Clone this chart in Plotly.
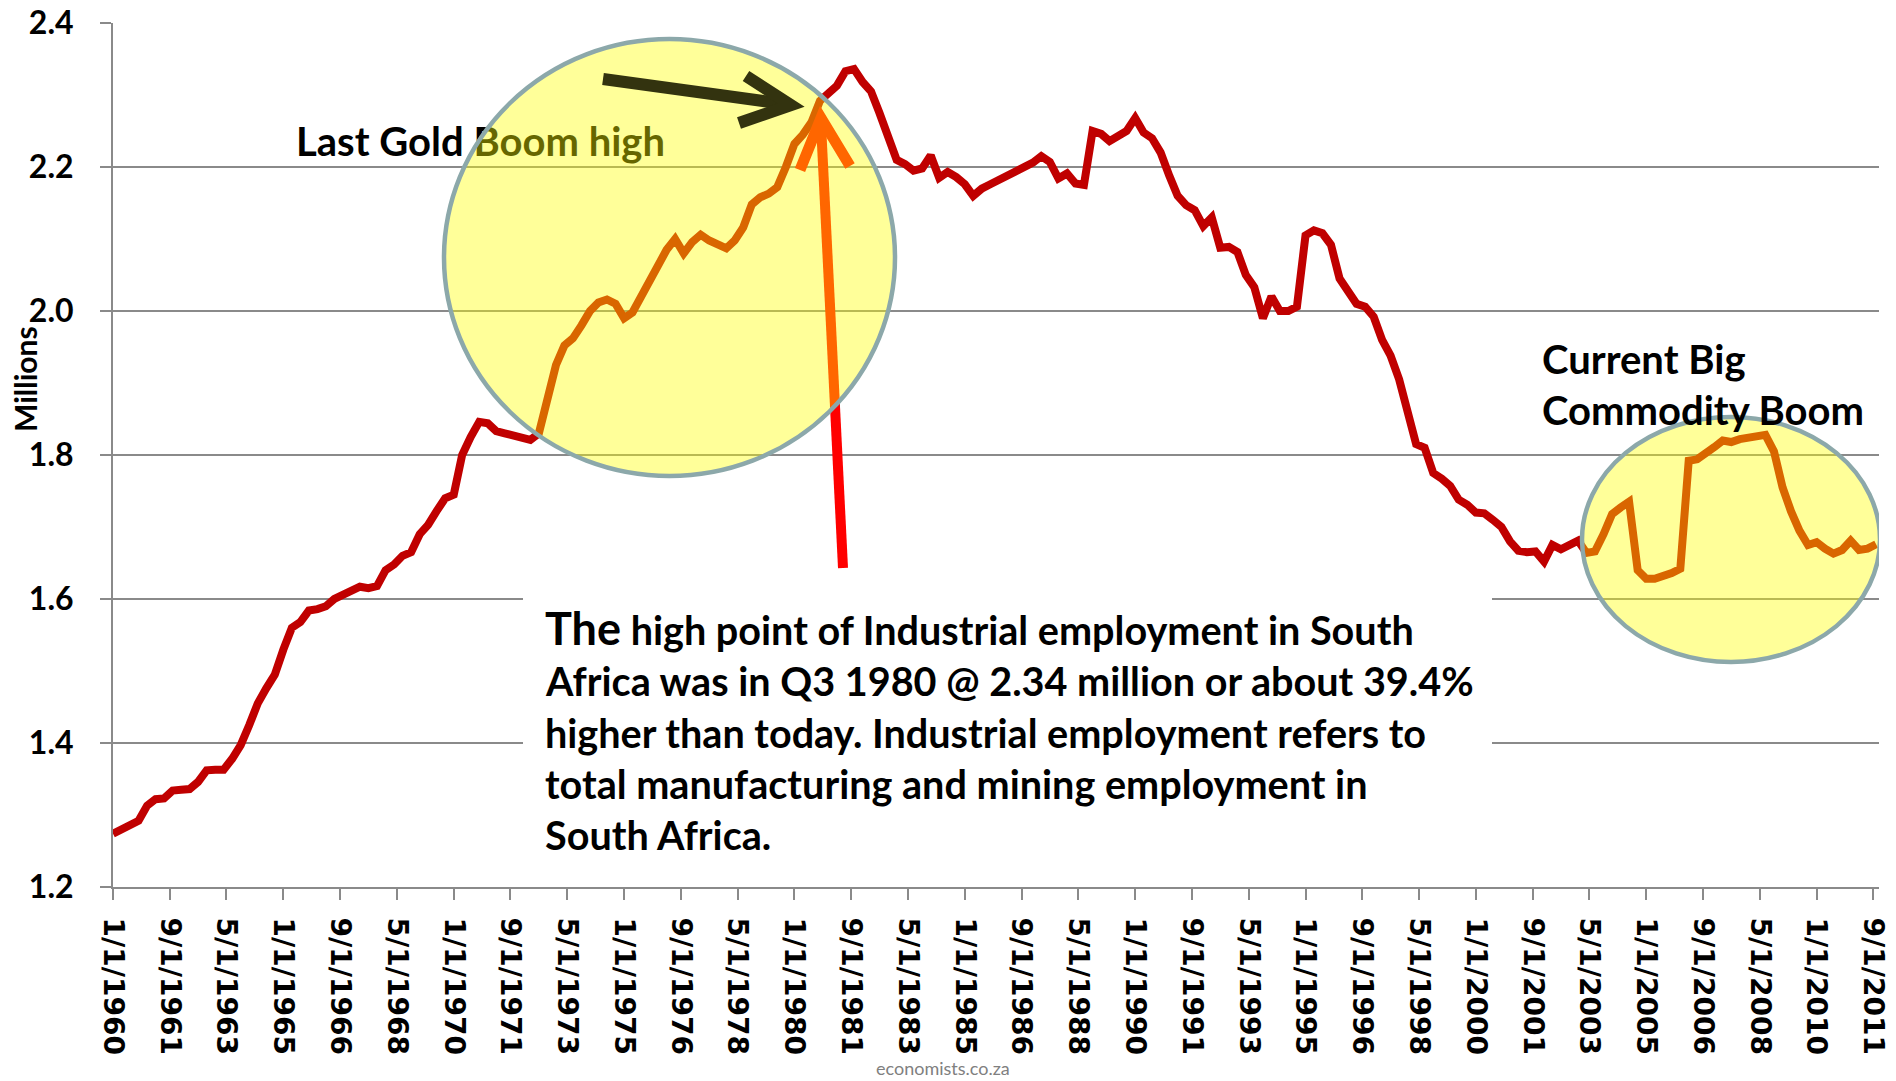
import plotly.graph_objects as go
import pandas as pd
from datetime import datetime

# ---- data: quarterly industrial employment (millions), 1960Q1 .. 2011Q4 ----
START = "1960-01-01"
EMPLOYMENT = [
    1.274, 1.280, 1.286, 1.292, 1.313, 1.322, 1.323, 1.334, 1.335, 1.336,
    1.346, 1.362, 1.363, 1.363, 1.378, 1.397, 1.425, 1.455, 1.476, 1.495,
    1.530, 1.560, 1.568, 1.584, 1.586, 1.590, 1.600, 1.606, 1.612, 1.617,
    1.615, 1.618, 1.640, 1.648, 1.660, 1.665, 1.690, 1.703, 1.722, 1.740,
    1.745, 1.800, 1.825, 1.846, 1.844, 1.833, 1.830, 1.827, 1.824, 1.821,
    1.830, 1.875, 1.925, 1.952, 1.962, 1.980, 2.000, 2.012, 2.016, 2.010,
    1.990, 1.998, 2.020, 2.040, 2.060, 2.085, 2.100, 2.080, 2.096, 2.106,
    2.098, 2.092, 2.087, 2.098, 2.116, 2.148, 2.158, 2.163, 2.172, 2.200,
    2.232, 2.245, 2.262, 2.292, 2.302, 2.313, 2.333, 2.336, 2.318, 2.305,
    2.275, 2.245, 2.210, 2.204, 2.195, 2.198, 2.216, 2.185, 2.193, 2.186,
    2.176, 2.160, 2.170, 2.176, 2.182, 2.188, 2.192, 2.197, 2.206, 2.215,
    2.207, 2.184, 2.191, 2.177, 2.175, 2.250, 2.246, 2.236, 2.243, 2.250,
    2.268, 2.248, 2.240, 2.220, 2.188, 2.160, 2.147, 2.140, 2.118, 2.130,
    2.088, 2.089, 2.082, 2.050, 2.033, 1.990, 2.020, 2.000, 2.000, 2.006,
    2.105, 2.112, 2.108, 2.092, 2.045, 2.025, 2.010, 2.006, 1.992, 1.960,
    1.938, 1.905, 1.858, 1.815, 1.810, 1.775, 1.767, 1.757, 1.738, 1.731,
    1.720, 1.719, 1.710, 1.700, 1.680, 1.667, 1.665, 1.666, 1.652, 1.675,
    1.669, 1.676, 1.681, 1.664, 1.666, 1.690, 1.718, 1.727, 1.735, 1.640,
    1.628, 1.628, 1.631, 1.636, 1.642, 1.792, 1.794, 1.804, 1.811, 1.820,
    1.818, 1.822, 1.824, 1.827, 1.828, 1.805, 1.755, 1.722, 1.695, 1.675,
    1.679, 1.670, 1.663, 1.668, 1.681, 1.668, 1.670, 1.676,
]
DATES = pd.date_range(start=START, periods=len(EMPLOYMENT), freq="QS")

TICK_LABELS = [
    "1/1/1960", "9/1/1961", "5/1/1963", "1/1/1965", "9/1/1966", "5/1/1968",
    "1/1/1970", "9/1/1971", "5/1/1973", "1/1/1975", "9/1/1976", "5/1/1978",
    "1/1/1980", "9/1/1981", "5/1/1983", "1/1/1985", "9/1/1986", "5/1/1988",
    "1/1/1990", "9/1/1991", "5/1/1993", "1/1/1995", "9/1/1996", "5/1/1998",
    "1/1/2000", "9/1/2001", "5/1/2003", "1/1/2005", "9/1/2006", "5/1/2008",
    "1/1/2010", "9/1/2011",
]
TICK_VALS = [datetime.strptime(t, "%m/%d/%Y").strftime("%Y-%m-%d") for t in TICK_LABELS]

MAIN_TEXT = [
    '<span style="font-size:45px">The</span> high point of Industrial employment in South',
    "Africa was in Q3 1980 @ 2.34 million or about 39.4%",
    "higher than today. Industrial employment refers to",
    "total manufacturing and mining employment in",
    "South Africa.",
]

# ---- geometry: page pixels (body margin removed via post_script) ----
W, H = 1896, 1081
PL, PR, PT, PB = 113, 1879, 23, 887          # plot area in page pixels
ML, MT = PL, PT
MR, MB = W - PR, H - PB

GRID = "#8A8A8A"
RED = "#C00000"
FONT = "Lato"
TXT = 40


def paper(x, y):
    return (x - PL) / (PR - PL), (PB - y) / (PB - PT)


fig = go.Figure()

fig.add_trace(go.Scatter(
    x=DATES, y=EMPLOYMENT, mode="lines",
    line=dict(color=RED, width=8),
    hoverinfo="skip", showlegend=False,
))

# label drawn in the trace layer so the translucent circle covers part of it
fig.add_trace(go.Scatter(
    x=[296], y=[146], xaxis="x2", yaxis="y2", mode="text",
    text=["Last Gold Boom high"], textposition="middle right",
    textfont=dict(family=FONT, size=TXT, color="black", weight="bold"),
    cliponaxis=False, hoverinfo="skip", showlegend=False,
))

shapes = []
# white text box
shapes.append(dict(type="rect", xref="x2", yref="y2", x0=523, x1=1492, y0=572, y1=862,
                   fillcolor="white", line=dict(width=0), layer="above"))
# red upward arrow
shapes.append(dict(type="line", xref="x2", yref="y2", x0=843, y0=568, x1=821, y1=124,
                   line=dict(color="#FF0000", width=10), layer="above"))
shapes.append(dict(type="path", xref="x2", yref="y2", path="M 800,170 L 821,118 L 850,166",
                   line=dict(color="#FF0000", width=11), layer="above"))
# circles
shapes.append(dict(type="circle", xref="x2", yref="y2", x0=444, x1=895, y0=39, y1=476,
                   fillcolor="rgba(255,255,0,0.40)", line=dict(color="#8CA8AA", width=4.5),
                   layer="above"))
shapes.append(dict(type="circle", xref="x2", yref="y2", x0=1582, x1=1880, y0=417, y1=662,
                   fillcolor="rgba(255,255,0,0.40)", line=dict(color="#8CA8AA", width=4.5),
                   layer="above"))
# dark arrow pointing at the peak
shapes.append(dict(type="line", xref="x2", yref="y2", x0=603, y0=79, x1=785, y1=104,
                   line=dict(color="#33330F", width=12), layer="above"))
shapes.append(dict(type="path", xref="x2", yref="y2", path="M 746,76 L 791,105 L 739,123",
                   line=dict(color="#33330F", width=12), layer="above"))

annotations = []
line_centers = [628, 680, 732, 783, 834]
for txt, yc in zip(MAIN_TEXT, line_centers):
    annotations.append(dict(xref="x2", yref="y2", x=543, y=yc, text=txt, showarrow=False,
                            xanchor="left", yanchor="middle",
                            font=dict(family=FONT, size=39.6, color="black", weight="bold")))
for txt, yc in zip(["Current Big", "Commodity Boom"], [359, 410]):
    annotations.append(dict(xref="x2", yref="y2", x=1540, y=yc, text=txt, showarrow=False,
                            xanchor="left", yanchor="middle",
                            font=dict(family=FONT, size=TXT, color="black", weight="bold")))

mx, my = paper(25, 379)
annotations.append(dict(xref="paper", yref="paper", x=mx, y=my, text="Millions",
                        textangle=-90, showarrow=False, xanchor="center", yanchor="middle",
                        font=dict(family=FONT, size=30, color="black", weight="bold")))
wx, wy = paper(943, 1068)
annotations.append(dict(xref="paper", yref="paper", x=wx, y=wy, text="economists.co.za",
                        showarrow=False, xanchor="center", yanchor="middle",
                        font=dict(family=FONT, size=18, color="#808080")))

fig.update_layout(
    width=W, height=H,
    margin=dict(l=ML, r=MR, t=MT, b=MB, pad=0),
    paper_bgcolor="white", plot_bgcolor="white",
    showlegend=False,
    xaxis=dict(
        type="date", range=["1960-01-01", "2011-11-01"],
        tickmode="array", tickvals=TICK_VALS, ticktext=TICK_LABELS, tickangle=90,
        tickfont=dict(family="DejaVu Sans", size=28, color="black", weight="bold"),
        showgrid=False, zeroline=False, showline=True, linecolor=GRID, linewidth=2,
        ticks="outside", ticklen=11, tickwidth=2, tickcolor=GRID, automargin=False,
        ticklabelstandoff=12, ticklabeloverflow="allow",
    ),
    yaxis=dict(
        range=[1.2, 2.4], tick0=1.2, dtick=0.2, tickformat=".1f",
        tickfont=dict(family=FONT, size=32, color="black", weight="bold"),
        showgrid=True, gridcolor=GRID, gridwidth=2, zeroline=False,
        showline=True, linecolor=GRID, linewidth=2,
        ticks="outside", ticklen=11, tickwidth=2, tickcolor=GRID,
        ticklabelstandoff=20, automargin=False, ticklabeloverflow="allow",
    ),
    xaxis2=dict(overlaying="x", range=[PL, PR], visible=False, anchor="y2"),
    yaxis2=dict(overlaying="y", range=[PB, PT], visible=False, anchor="x2"),
    shapes=shapes,
    annotations=annotations,
)

fig.write_html(
    "out.html",
    config={"displayModeBar": False, "staticPlot": True},
    post_script="document.body.style.margin='0';document.body.style.overflow='hidden';",
)
